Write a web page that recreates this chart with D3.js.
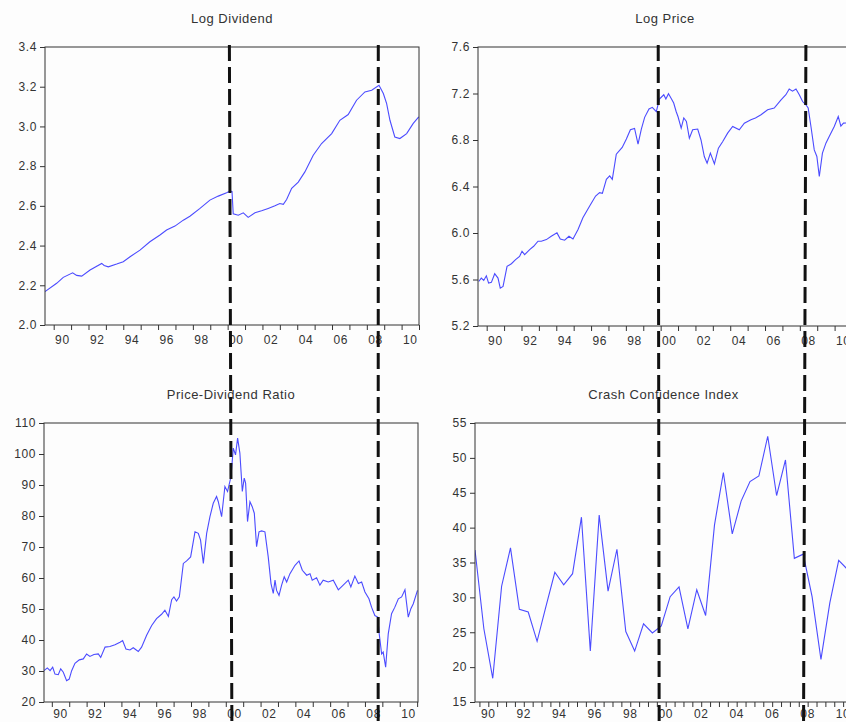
<!DOCTYPE html>
<html>
<head>
<meta charset="utf-8">
<script src="https://cdn.jsdelivr.net/npm/d3@7"></script>
<style>
body { margin: 0; background: #fdfdfd; }
svg { display: block; }
text { font-family: "Liberation Sans", Arial, sans-serif; fill: #333; }
</style>
</head>
<body>
<script>
var width = 846, height = 722;

// monthly series as [year, value]
var logDividend = [
  [1989.5,2.168],[1990.17,2.21],[1990.55,2.24],[1991.09,2.263],[1991.32,2.25],[1991.61,2.246],
  [1992.09,2.277],[1992.76,2.31],[1992.9,2.30],[1993.14,2.293],[1993.62,2.307],[1994.0,2.319],
  [1994.39,2.344],[1994.96,2.377],[1995.53,2.419],[1996.11,2.453],[1996.49,2.478],[1996.97,2.498],
  [1997.45,2.528],[1997.83,2.548],[1998.41,2.587],[1998.98,2.629],[1999.46,2.649],[1999.94,2.666],
  [2000.13,2.674],[2000.25,2.672],[2000.32,2.56],[2000.61,2.553],[2000.9,2.565],[2001.18,2.542],
  [2001.57,2.565],[2001.95,2.575],[2002.33,2.587],[2002.72,2.60],[2003.0,2.612],[2003.2,2.608],
  [2003.39,2.632],[2003.68,2.688],[2004.06,2.72],[2004.44,2.771],[2004.92,2.855],[2005.4,2.914],
  [2005.98,2.964],[2006.45,3.031],[2006.93,3.06],[2007.41,3.132],[2007.89,3.174],[2008.28,3.182],
  [2008.7,3.207],[2008.95,3.166],[2009.14,3.115],[2009.33,3.031],[2009.61,2.947],[2009.9,2.939],
  [2010.29,2.964],[2010.67,3.015],[2010.96,3.045],[2011.0,3.048]
];

var logPrice = [
  [1989.54,5.583],[1989.69,5.612],[1989.83,5.592],[1989.98,5.632],[1990.11,5.569],[1990.27,5.575],
  [1990.46,5.65],[1990.65,5.612],[1990.78,5.526],[1990.94,5.54],[1991.17,5.713],[1991.42,5.736],
  [1991.66,5.771],[1991.89,5.799],[1992.03,5.843],[1992.18,5.814],[1992.47,5.857],[1992.7,5.886],
  [1992.95,5.929],[1993.14,5.929],[1993.43,5.943],[1993.71,5.972],[1994.04,6.001],[1994.23,5.949],
  [1994.48,5.938],[1994.73,5.972],[1994.96,5.949],[1995.25,6.03],[1995.53,6.131],[1995.92,6.232],
  [1996.26,6.318],[1996.49,6.347],[1996.65,6.341],[1996.88,6.462],[1997.07,6.491],[1997.22,6.462],
  [1997.45,6.678],[1997.79,6.736],[1998.03,6.808],[1998.26,6.888],[1998.5,6.9],[1998.7,6.765],
  [1998.89,6.894],[1999.08,6.995],[1999.33,7.067],[1999.52,7.081],[1999.75,7.044],[1999.93,7.152],
  [2000.18,7.189],[2000.3,7.152],[2000.45,7.198],[2000.6,7.16],[2000.75,7.118],[2000.89,7.045],
  [2001.0,7.0],[2001.18,6.902],[2001.33,6.99],[2001.48,6.96],[2001.65,6.816],[2001.84,6.888],
  [2002.13,6.894],[2002.32,6.8],[2002.51,6.658],[2002.67,6.6],[2002.86,6.687],[2003.09,6.595],
  [2003.32,6.73],[2003.57,6.787],[2003.85,6.859],[2004.14,6.916],[2004.52,6.888],[2004.81,6.945],
  [2005.19,6.974],[2005.45,6.99],[2005.77,7.017],[2006.15,7.06],[2006.53,7.075],[2006.92,7.146],
  [2007.2,7.19],[2007.39,7.238],[2007.58,7.22],[2007.78,7.238],[2007.97,7.189],[2008.16,7.131],
  [2008.35,7.103],[2008.48,7.075],[2008.64,6.916],[2008.83,6.715],[2008.98,6.658],[2009.12,6.486],
  [2009.3,6.687],[2009.5,6.773],[2009.69,6.83],[2009.98,6.916],[2010.21,7.002],[2010.36,6.92],
  [2010.51,6.945],[2010.9,6.95]
];

var pdRatio = [
  [1989.55,30.1],[1989.74,31.0],[1989.9,30.1],[1990.05,31.2],[1990.18,29.0],[1990.37,28.8],
  [1990.51,30.7],[1990.66,29.6],[1990.85,26.9],[1991.0,27.4],[1991.14,30.1],[1991.33,32.5],
  [1991.58,33.6],[1991.81,33.9],[1992.0,35.5],[1992.19,34.7],[1992.42,35.3],[1992.67,35.5],
  [1992.81,34.4],[1993.06,37.7],[1993.34,37.9],[1993.63,38.5],[1993.92,39.3],[1994.07,39.8],
  [1994.26,37.1],[1994.49,36.8],[1994.68,37.5],[1994.97,36.3],[1995.16,37.7],[1995.45,41.5],
  [1995.74,44.7],[1996.02,46.9],[1996.31,48.3],[1996.5,49.6],[1996.7,47.6],[1996.89,53.0],
  [1997.02,53.9],[1997.17,52.6],[1997.33,53.9],[1997.56,64.7],[1997.75,65.5],[1997.98,66.8],
  [1998.23,74.9],[1998.42,74.4],[1998.55,72.2],[1998.71,64.7],[1998.9,74.4],[1999.09,79.8],
  [1999.28,84.1],[1999.47,86.3],[1999.57,84.6],[1999.76,79.8],[1999.95,89.5],[2000.1,87.9],
  [2000.3,92.7],[2000.43,101.9],[2000.56,99.7],[2000.68,105.1],[2000.81,100.3],[2000.95,87.9],
  [2001.06,92.2],[2001.14,90.6],[2001.25,78.2],[2001.39,84.6],[2001.52,83.0],[2001.64,80.9],
  [2001.77,70.1],[2001.91,74.9],[2002.06,75.2],[2002.25,74.9],[2002.44,66.8],[2002.6,58.2],
  [2002.73,55.0],[2002.83,59.3],[2002.92,56.0],[2003.06,54.4],[2003.21,57.7],[2003.36,60.4],
  [2003.5,58.7],[2003.69,61.4],[2003.98,64.1],[2004.21,65.5],[2004.4,62.5],[2004.65,60.9],
  [2004.84,61.4],[2004.97,59.3],[2005.22,60.1],[2005.41,57.7],[2005.6,59.3],[2005.89,58.7],
  [2006.18,59.3],[2006.47,56.2],[2006.75,57.7],[2007.04,59.3],[2007.19,57.1],[2007.42,60.6],
  [2007.62,58.2],[2007.81,58.7],[2008.0,55.5],[2008.23,53.3],[2008.38,50.6],[2008.57,47.9],
  [2008.73,47.4],[2008.82,42.0],[2008.96,35.5],[2009.05,36.1],[2009.19,31.2],[2009.34,42.0],
  [2009.53,48.5],[2009.72,50.6],[2009.92,53.3],[2010.11,53.9],[2010.3,56.2],[2010.49,47.4],
  [2010.64,50.1],[2010.78,51.7],[2011.02,56.0]
];

// semiannual crash confidence index, first observation 1989 H2
var cciStart = 1989.75;
var cciValues = [36.8, 25.5, 18.4, 31.6, 37.1, 28.3, 27.9, 23.7, 28.7, 33.6, 31.8, 33.4, 41.5, 22.3,
  41.8, 30.9, 36.9, 25.1, 22.3, 26.2, 24.9, 25.9, 30.1, 31.5, 25.5, 31.1, 27.4, 40.4, 47.9, 39.1,
  43.8, 46.6, 47.4, 53.1, 44.6, 49.7, 35.6, 36.2, 30.1, 21.1, 29.2, 35.3, 34.0];
var cci = cciValues.map(function(v, i) { return [cciStart + 0.5 * i, v]; });

var ldTicks = [2.0, 2.2, 2.4, 2.6, 2.8, 3.0, 3.2, 3.4];
var lpTicks = [5.2, 5.6, 6.0, 6.4, 6.8, 7.2, 7.6];
var pdTicks = [20, 30, 40, 50, 60, 70, 80, 90, 100, 110];
var cciTicks = [15, 20, 25, 30, 35, 40, 45, 50, 55];

// dashed crash markers: date where the line leaves the top panel / reaches the bottom edge
var crashTopLeft = [2000.1, 2008.66], crashBottomLeft = [2000.35, 2008.76];
var crashTopRight = [1999.86, 2008.35], crashBottomRight = [2000.13, 2008.27];

var svg = d3.select("body").append("svg")
    .attr("width", width)
    .attr("height", height);

svg.append("rect").attr("width", width).attr("height", height).attr("fill", "#fdfdfd");

var panels = [
  { title: "Log Dividend", data: logDividend, yDomain: [2.0, 3.4], yTicks: ldTicks, fmt: d3.format(".1f"),
    xDomain: [1989.5, 2011.0], left: 45, right: 419, top: 47, bottom: 325, labelDy: 19, tickStep: 1 },
  { title: "Log Price", data: logPrice, yDomain: [5.2, 7.6], yTicks: lpTicks, fmt: d3.format(".1f"),
    xDomain: [1989.5, 2011.0], left: 478, right: 852, top: 47, bottom: 326, labelDy: 19, tickStep: 1 },
  { title: "Price-Dividend Ratio", data: pdRatio, yDomain: [20, 110], yTicks: pdTicks, fmt: d3.format("d"),
    xDomain: [1989.55, 2011.05], left: 44, right: 418, top: 423, bottom: 702, labelDy: 16, tickStep: 1 },
  { title: "Crash Confidence Index", data: cci, yDomain: [15, 55], yTicks: cciTicks, fmt: d3.format("d"),
    xDomain: [1989.75, 2011.0], left: 475, right: 852, top: 423, bottom: 702, labelDy: 16, tickStep: 0.5 }
];

panels.forEach(function(p, i) {
  p.x = d3.scaleLinear().domain(p.xDomain).range([p.left, p.right]);
  p.y = d3.scaleLinear().domain(p.yDomain).range([p.bottom, p.top]);

  var g = svg.append("g");

  g.append("clipPath").attr("id", "clip" + i)
    .append("rect")
    .attr("x", p.left).attr("y", p.top)
    .attr("width", p.right - p.left).attr("height", p.bottom - p.top);

  g.append("text")
    .attr("x", (p.left + p.right) / 2)
    .attr("y", p.top - 24)
    .attr("text-anchor", "middle")
    .attr("font-size", "13px")
    .attr("letter-spacing", "0.5px")
    .text(p.title);

  var yAxis = d3.axisLeft(p.y).tickValues(p.yTicks).tickFormat(p.fmt).tickSize(5).tickPadding(3);
  var ya = g.append("g").attr("transform", "translate(" + p.left + ",0)").call(yAxis);
  ya.select(".domain").remove();

  var years = d3.range(Math.ceil(p.xDomain[0]), Math.floor(p.xDomain[1]) + 1);
  var tickDates = d3.range(Math.ceil(p.xDomain[0] / p.tickStep) * p.tickStep, p.xDomain[1] + 0.001, p.tickStep);
  var xAxis = d3.axisBottom(p.x).tickValues(tickDates).tickFormat("").tickSize(5);
  var xa = g.append("g").attr("transform", "translate(0," + p.bottom + ")").call(xAxis);
  xa.select(".domain").remove();

  g.selectAll(".tick line").attr("stroke", "#333");
  g.selectAll(".tick text")
    .attr("font-size", "12px")
    .attr("letter-spacing", "0.6px")
    .attr("fill", "#333")
    .style("font-family", "'Liberation Sans', Arial, sans-serif");

  g.selectAll(".xlab")
    .data(years.filter(function(yr) { return yr % 2 === 0 && yr < p.xDomain[1]; }))
    .enter()
    .append("text")
    .attr("class", "xlab")
    .attr("x", function(yr) { return p.x(yr + 0.5); })
    .attr("y", p.bottom + p.labelDy)
    .attr("text-anchor", "middle")
    .attr("font-size", "12px")
    .attr("letter-spacing", "0.6px")
    .text(function(yr) { return String(yr % 100).padStart(2, "0"); });

  g.append("path")
    .datum(p.data)
    .attr("clip-path", "url(#clip" + i + ")")
    .attr("fill", "none")
    .attr("stroke", "#4b4bff")
    .attr("stroke-width", 1.1)
    .attr("d", d3.line().x(function(d) { return p.x(d[0]); }).y(function(d) { return p.y(d[1]); }));

  g.append("rect")
    .attr("x", p.left).attr("y", p.top)
    .attr("width", p.right - p.left).attr("height", p.bottom - p.top)
    .attr("fill", "none")
    .attr("stroke", "#333")
    .attr("stroke-width", 1);
});

// dashed lines run down through both panels of a column
function crashLines(topPanel, bottomPanel, topDates, bottomDates) {
  svg.selectAll(null)
    .data(topDates)
    .enter()
    .append("line")
    .attr("x1", function(d) { return topPanel.x(d); })
    .attr("y1", topPanel.top - 2)
    .attr("x2", function(d, i) { return bottomPanel.x(bottomDates[i]); })
    .attr("y2", height)
    .attr("stroke", "#111")
    .attr("stroke-width", 3)
    .attr("stroke-dasharray", "16,6");
}
crashLines(panels[0], panels[2], crashTopLeft, crashBottomLeft);
crashLines(panels[1], panels[3], crashTopRight, crashBottomRight);
</script>
</body>
</html>
